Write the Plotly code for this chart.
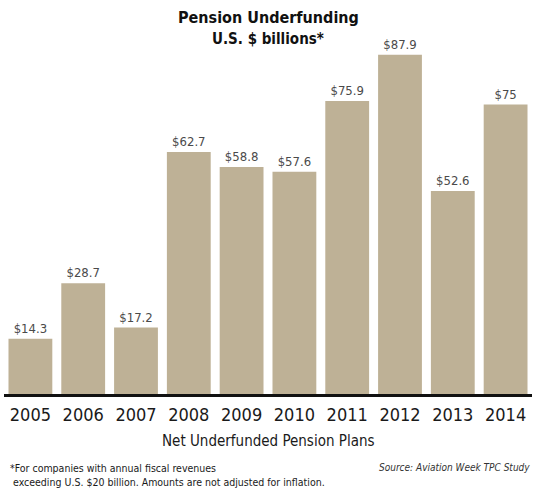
import plotly.graph_objects as go

years = ["2005", "2006", "2007", "2008", "2009", "2010", "2011", "2012", "2013", "2014"]
values = [14.3, 28.7, 17.2, 62.7, 58.8, 57.6, 75.9, 87.9, 52.6, 75.0]
labels = ["$" + format(v, "g") for v in values]

BAR = "#BEB196"
FONT = "Liberation Sans Narrow, DejaVu Sans Condensed, Arial Narrow, sans-serif"

fig = go.Figure(go.Bar(
    x=years, y=values, text=labels, textposition="outside",
    textfont=dict(family=FONT, size=13, color="#4a4a4a"),
    marker=dict(color=BAR, line=dict(width=0)),
    width=0.83, cliponaxis=False,
))

H = 386.0
def py(pix):
    return (394 - pix) / H

fig.update_layout(
    width=542, height=493,
    margin=dict(l=4, r=10, t=8, b=99),
    paper_bgcolor="white", plot_bgcolor="white",
    showlegend=False,
    xaxis=dict(
        type="category", range=[-0.5, 9.5],
        showline=True, linecolor="#111111", linewidth=3,
        showgrid=False, ticks="", zeroline=False,
        tickfont=dict(family=FONT, size=18, color="#1a1a1a"),
        ticklabelstandoff=2,
    ),
    yaxis=dict(range=[0, 100], visible=False, showgrid=False, zeroline=False),
    annotations=[
        dict(text="<b>Pension Underfunding</b>", xref="paper", yref="paper",
             x=0.5, y=py(18), xanchor="center", yanchor="middle", showarrow=False,
             font=dict(family="DejaVu Sans Condensed, Liberation Sans Narrow, sans-serif", size=16, color="#111111")),
        dict(text="<b>U.S. $ billions*</b>", xref="paper", yref="paper",
             x=0.5, y=py(39), xanchor="center", yanchor="middle", showarrow=False,
             font=dict(family="DejaVu Sans Condensed, Liberation Sans Narrow, sans-serif", size=15, color="#111111")),
        dict(text="Net Underfunded Pension Plans", xref="paper", yref="paper",
             x=0.5, y=py(441), xanchor="center", yanchor="middle", showarrow=False,
             font=dict(family=FONT, size=15, color="#1a1a1a")),
        dict(text="*For companies with annual fiscal revenues<br> exceeding U.S. $20 billion. Amounts are not adjusted for inflation.",
             xref="paper", yref="paper", x=(8 - 4) / 528.0, y=py(460), align="left",
             xanchor="left", yanchor="top", showarrow=False,
             font=dict(family=FONT, size=10.5, color="#1a1a1a")),
        dict(text="<i>Source: Aviation Week TPC Study</i>", xref="paper", yref="paper",
             x=1.0, y=py(467), xanchor="right", yanchor="middle", showarrow=False,
             font=dict(family=FONT, size=10, color="#333333")),
    ],
)

fig.write_html("out.html")
